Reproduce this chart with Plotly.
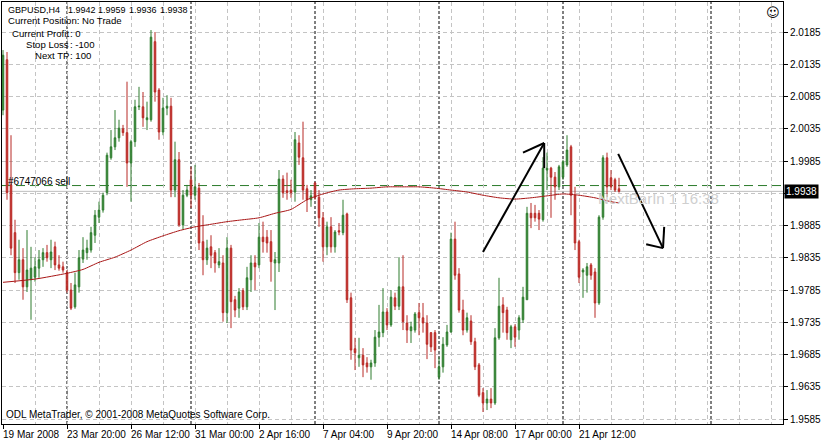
import plotly.graph_objects as go

# ---------------- data ----------------
bar_index = list(range(155))

opens = [
    2.0064, 2.0142, 1.9948, 1.9874, 1.9812, 1.9832, 1.9790, 1.9801, 1.9805, 1.9819,
    1.9832, 1.9843, 1.9832, 1.9852, 1.9824, 1.9821, 1.9812, 1.9785, 1.9759, 1.9790,
    1.9833, 1.9843, 1.9847, 1.9870, 1.9898, 1.9909, 1.9936, 1.9990, 2.0007, 2.0021,
    2.0035, 2.0029, 1.9982, 2.0015, 2.0069, 2.0069, 2.0049, 2.0049, 2.0170, 2.0095,
    2.0030, 2.0067, 2.0070, 1.9940, 1.9987, 1.9886, 1.9932, 1.9956, 1.9932, 1.9943,
    1.9860, 1.9832, 1.9852, 1.9843, 1.9824, 1.9827, 1.9750, 1.9850, 1.9770, 1.9757,
    1.9784, 1.9759, 1.9801, 1.9827, 1.9824, 1.9867, 1.9867, 1.9860, 1.9827, 1.9827,
    1.9957, 1.9939, 1.9940, 1.9937, 2.0013, 1.9990, 1.9942, 1.9925, 1.9951, 1.9929,
    1.9897, 1.9852, 1.9883, 1.9852, 1.9877, 1.9874, 1.9903, 1.9773, 1.9694, 1.9680,
    1.9684, 1.9672, 1.9666, 1.9672, 1.9712, 1.9719, 1.9751, 1.9731, 1.9773, 1.9760,
    1.9790, 1.9734, 1.9722, 1.9723, 1.9750, 1.9742, 1.9734, 1.9719, 1.9719, 1.9650,
    1.9666, 1.9700, 1.9720, 1.9864, 1.9810, 1.9754, 1.9723, 1.9737, 1.9705, 1.9669,
    1.9626, 1.9610, 1.9616, 1.9610, 1.9711, 1.9762, 1.9754, 1.9708, 1.9728, 1.9723,
    1.9739, 1.9770, 1.9904, 1.9904, 1.9904, 1.9894, 1.9971, 1.9974, 1.9960, 1.9945,
    1.9960, 1.9979, 2.0007, 1.9932, 1.9860, 1.9813, 1.9808, 1.9824, 1.9813, 1.9765,
    1.9898, 1.9990, 1.9959, 1.9956, 1.9942,
]

highs = [
    2.0157, 2.0154, 2.0025, 1.9894, 1.9863, 1.9850, 1.9878, 1.9852, 1.9836, 1.9847,
    1.9850, 1.9855, 1.9863, 1.9860, 1.9839, 1.9829, 1.9816, 1.9796, 1.9812, 1.9847,
    1.9867, 1.9863, 1.9883, 1.9909, 1.9922, 1.9936, 1.9998, 2.0033, 2.0064, 2.0049,
    2.0041, 2.0108, 2.0018, 2.0080, 2.0100, 2.0092, 2.0077, 2.0188, 2.0185, 2.0098,
    2.0083, 2.0087, 2.0083, 2.0015, 1.9999, 1.9940, 1.9948, 1.9976, 1.9979, 1.9951,
    1.9901, 1.9863, 1.9870, 1.9847, 1.9850, 1.9839, 1.9867, 1.9855, 1.9776, 1.9788,
    1.9788, 1.9821, 1.9839, 1.9839, 1.9889, 1.9891, 1.9878, 1.9878, 1.9844, 1.9971,
    1.9963, 1.9967, 1.9956, 2.0030, 2.0025, 2.0046, 1.9948, 1.9940, 1.9953, 1.9940,
    1.9906, 1.9891, 1.9898, 1.9878, 1.9889, 1.9925, 1.9905, 1.9781, 1.9711, 1.9711,
    1.9695, 1.9681, 1.9677, 1.9723, 1.9762, 1.9788, 1.9757, 1.9785, 1.9781, 1.9836,
    1.9839, 1.9746, 1.9736, 1.9751, 1.9765, 1.9765, 1.9746, 1.9720, 1.9723, 1.9681,
    1.9712, 1.9731, 1.9874, 1.9891, 1.9819, 1.9770, 1.9750, 1.9746, 1.9711, 1.9672,
    1.9633, 1.9630, 1.9633, 1.9726, 1.9804, 1.9774, 1.9759, 1.9731, 1.9732, 1.9746,
    1.9790, 1.9914, 1.9920, 1.9917, 1.9909, 1.9991, 1.9998, 1.9976, 1.9968, 1.9979,
    1.9987, 2.0025, 2.0010, 1.9945, 1.9863, 1.9819, 1.9827, 1.9827, 1.9819, 1.9901,
    1.9994, 1.9998, 1.9971, 1.9959, 1.9959,
]

lows = [
    2.0056, 1.9925, 1.9839, 1.9796, 1.9801, 1.9770, 1.9782, 1.9739, 1.9798, 1.9804,
    1.9821, 1.9829, 1.9819, 1.9816, 1.9815, 1.9812, 1.9781, 1.9754, 1.9756, 1.9781,
    1.9827, 1.9832, 1.9843, 1.9858, 1.9889, 1.9905, 1.9932, 1.9987, 2.0002, 2.0015,
    2.0024, 1.9945, 1.9922, 2.0007, 2.0064, 2.0038, 2.0033, 2.0046, 2.0077, 2.0018,
    2.0025, 2.0056, 1.9929, 1.9929, 1.9883, 1.9878, 1.9929, 1.9912, 1.9925, 1.9847,
    1.9808, 1.9824, 1.9819, 1.9812, 1.9819, 1.9736, 1.9734, 1.9726, 1.9743, 1.9742,
    1.9754, 1.9754, 1.9782, 1.9785, 1.9819, 1.9843, 1.9843, 1.9798, 1.9754, 1.9813,
    1.9928, 1.9925, 1.9928, 1.9922, 1.9979, 1.9925, 1.9906, 1.9914, 1.9925, 1.9883,
    1.9829, 1.9839, 1.9843, 1.9843, 1.9870, 1.9870, 1.9765, 1.9677, 1.9661, 1.9666,
    1.9650, 1.9657, 1.9646, 1.9666, 1.9697, 1.9712, 1.9723, 1.9728, 1.9754, 1.9754,
    1.9723, 1.9703, 1.9703, 1.9719, 1.9715, 1.9719, 1.9678, 1.9689, 1.9664, 1.9646,
    1.9657, 1.9697, 1.9719, 1.9801, 1.9750, 1.9715, 1.9719, 1.9700, 1.9661, 1.9619,
    1.9596, 1.9599, 1.9602, 1.9607, 1.9708, 1.9719, 1.9708, 1.9695, 1.9697, 1.9708,
    1.9734, 1.9770, 1.9881, 1.9891, 1.9878, 1.9891, 1.9940, 1.9897, 1.9925, 1.9940,
    1.9956, 1.9976, 1.9901, 1.9847, 1.9796, 1.9773, 1.9781, 1.9801, 1.9742, 1.9762,
    1.9894, 1.9929, 1.9940, 1.9937, 1.9936,
]

closes = [
    2.0149, 1.9936, 1.9850, 1.9812, 1.9832, 1.9790, 1.9816, 1.9819, 1.9821, 1.9832,
    1.9843, 1.9835, 1.9844, 1.9824, 1.9819, 1.9816, 1.9785, 1.9757, 1.9793, 1.9835,
    1.9847, 1.9850, 1.9874, 1.9901, 1.9909, 1.9932, 1.9994, 2.0007, 2.0021, 2.0036,
    2.0029, 1.9982, 2.0015, 2.0069, 2.0070, 2.0052, 2.0052, 2.0177, 2.0092, 2.0030,
    2.0067, 2.0070, 1.9940, 1.9987, 1.9886, 1.9932, 1.9940, 1.9932, 1.9945, 1.9858,
    1.9832, 1.9850, 1.9839, 1.9827, 1.9829, 1.9750, 1.9850, 1.9767, 1.9754, 1.9782,
    1.9759, 1.9804, 1.9827, 1.9821, 1.9867, 1.9860, 1.9858, 1.9829, 1.9832, 1.9957,
    1.9936, 1.9936, 1.9936, 2.0018, 1.9991, 1.9940, 1.9925, 1.9931, 1.9929, 1.9897,
    1.9852, 1.9883, 1.9852, 1.9875, 1.9875, 1.9901, 1.9770, 1.9692, 1.9688, 1.9684,
    1.9669, 1.9666, 1.9672, 1.9712, 1.9720, 1.9751, 1.9731, 1.9774, 1.9760, 1.9790,
    1.9736, 1.9723, 1.9728, 1.9748, 1.9742, 1.9734, 1.9701, 1.9697, 1.9692, 1.9666,
    1.9701, 1.9720, 1.9864, 1.9808, 1.9754, 1.9723, 1.9742, 1.9705, 1.9666, 1.9622,
    1.9610, 1.9616, 1.9610, 1.9711, 1.9760, 1.9750, 1.9719, 1.9728, 1.9712, 1.9742,
    1.9774, 1.9904, 1.9897, 1.9897, 1.9895, 1.9974, 1.9974, 1.9960, 1.9945, 1.9976,
    1.9984, 2.0002, 1.9932, 1.9858, 1.9805, 1.9816, 1.9821, 1.9808, 1.9765, 1.9898,
    1.9990, 1.9945, 1.9945, 1.9940, 1.9938,
]

ma_index = [0, 8, 16, 20, 24, 28, 32, 36, 40, 44, 48, 52, 56, 60, 64, 68, 72, 76, 80,
            84, 88, 92, 96, 100, 104, 108, 112, 116, 120, 124, 128, 132, 136, 140,
            144, 148, 152, 154]
ma_value = [1.9797, 1.9802, 1.9811, 1.9817, 1.9828, 1.9836, 1.9847, 1.9860, 1.9869,
            1.9877, 1.9883, 1.9887, 1.9891, 1.9894, 1.9897, 1.9904, 1.9910, 1.9925,
            1.9934, 1.9940, 1.9942, 1.9943, 1.9945, 1.9945, 1.9945, 1.9943, 1.9940,
            1.9937, 1.9932, 1.9928, 1.9926, 1.9928, 1.9931, 1.9934, 1.9932, 1.9928,
            1.9922, 1.9920]

tick_bars = [0, 16, 32, 48, 64, 80, 96, 112, 128, 144]
tick_labels = ["19 Mar 2008", "23 Mar 20:00", "26 Mar 12:00", "31 Mar 00:00",
               "2 Apr 16:00", "7 Apr 04:00", "9 Apr 20:00", "14 Apr 08:00",
               "17 Apr 00:00", "21 Apr 12:00"]
price_ticks = [1.9585, 1.9635, 1.9685, 1.9735, 1.9785, 1.9835, 1.9885, 1.9935,
               1.9985, 2.0035, 2.0085, 2.0135, 2.0185]
price_tick_labels = ["1.9585", "1.9635", "1.9685", "1.9735", "1.9785", "1.9835",
                     "1.9885", "", "1.9985", "2.0035", "2.0085", "2.0135", "2.0185"]
week_separators = [16, 47, 78, 109, 140, 177]
order_price = 1.9947
bid_price = 1.9938

symbol = "GBPUSD,H4"
last_ohlc = ["1.9942", "1.9959", "1.9936", "1.9938"]

# hand-drawn arrows (bar, price)
arrow_up = [((120, 1.9844), (135.3, 2.0013)), ((130, 1.9998), (135.3, 2.0013)),
            ((135.3, 1.9974), (135.3, 2.0013))]
arrow_down = [((153.8, 1.9996), (165, 1.9850)), ((160.8, 1.9856), (165, 1.9850)),
              ((165.3, 1.9883), (165, 1.9850))]

# ---------------- figure ----------------
W, H = 821, 441
ML, MR, MT, MB = 2, 38, 2, 17
PW, PH = W - ML - MR, H - MT - MB
FONT = "Liberation Sans, Arial, sans-serif"
FS = 10
GREEN_LINE, GREEN_FILL = "#2f7d2f", "#3b8b3b"
RED_LINE, RED_FILL = "#b82a26", "#c8322d"
GRID = "#c4c4c4"


def px(x, y):
    return (x - ML) / PW, (MT + PH - y) / PH


fig = go.Figure()
fig.add_trace(go.Candlestick(
    x=bar_index, open=opens, high=highs, low=lows, close=closes,
    increasing=dict(line=dict(color=GREEN_LINE, width=1), fillcolor=GREEN_FILL),
    decreasing=dict(line=dict(color=RED_LINE, width=1), fillcolor=RED_FILL),
    whiskerwidth=0, hoverinfo="skip", showlegend=False,
))
fig.add_trace(go.Scatter(
    x=ma_index, y=ma_value, mode="lines",
    line=dict(color="#a81515", width=1, shape="spline", smoothing=0.6),
    hoverinfo="skip", showlegend=False,
))

shapes = []
for b in week_separators:
    shapes.append(dict(type="line", xref="x", yref="paper", x0=b, x1=b, y0=0, y1=1,
                       line=dict(color="black", width=1, dash="3px,2px"), layer="below"))
shapes.append(dict(type="line", xref="paper", yref="y", x0=0, x1=1, y0=bid_price, y1=bid_price,
                   line=dict(color="#bdbdbd", width=1), layer="below"))
shapes.append(dict(type="line", xref="paper", yref="y", x0=0, x1=1, y0=order_price, y1=order_price,
                   line=dict(color="#2a7a2a", width=1, dash="9px,5px"), layer="below"))
for (a, b) in arrow_up + arrow_down:
    shapes.append(dict(type="line", xref="x", yref="y", x0=a[0], y0=a[1], x1=b[0], y1=b[1],
                       line=dict(color="black", width=2), layer="above"))

ann = []


def txt(t, x, y, anchor="left", size=FS, color="black", family=FONT):
    xp, yp = px(x, y)
    ann.append(dict(text=t, x=xp, y=yp, xref="paper", yref="paper", showarrow=False,
                    xanchor=anchor, yanchor="middle",
                    font=dict(family=family, size=size, color=color)))


txt(symbol, 6, 10, size=9)
for xpos, v in zip([66, 96, 127, 158], last_ohlc):
    txt(v, xpos, 10, size=9)
txt("Current Position: No Trade", 6, 21, size=9.6)
txt("Current Profit", 71, 33, anchor="right", size=9.6)
txt(": 0", 68, 33, size=9.6)
txt("Stop Loss", 71, 44, anchor="right", size=9.6)
txt(": -100", 68, 44, size=9.6)
txt("Next TP", 71, 56, anchor="right", size=9.6)
txt(": 100", 68, 56, size=9.6)
txt("#6747066 sell", 6, 181)
txt("ODL MetaTrader, © 2001-2008 MetaQuotes Software Corp.", 4, 414)
txt("NextBarIn 1 16:38", 596, 198, size=15, color="#cfcfcf")
txt("☺", 773, 12, anchor="center", size=13, family="DejaVu Sans")

# time-axis labels, left-aligned at their ticks (as in the terminal)
for b, lab in zip(tick_bars, tick_labels):
    ann.append(dict(text=lab, x=b, y=0, xref="x", yref="paper", showarrow=False,
                    xanchor="left", yanchor="top", yshift=-3, xshift=-2,
                    font=dict(family=FONT, size=FS, color="black")))

ann.append(dict(text=f"{bid_price:.4f}", x=1, y=bid_price, xref="paper", yref="y",
                showarrow=False, xanchor="left", yanchor="middle", xshift=1,
                bgcolor="black", borderpad=1,
                font=dict(family=FONT, size=FS, color="white")))

fig.update_layout(
    width=W, height=H, margin=dict(l=ML, r=MR, t=MT, b=MB, autoexpand=False),
    paper_bgcolor="white", plot_bgcolor="white",
    font=dict(family=FONT, size=FS, color="black"),
    boxgap=0.45, shapes=shapes, annotations=ann, showlegend=False,
    xaxis=dict(
        range=[-0.25, 195], rangeslider=dict(visible=False),
        tickmode="array", tickvals=tick_bars, showticklabels=False,
        ticks="outside", ticklen=4,
        tickcolor="black", showline=True, linecolor="black", linewidth=1, mirror=True,
        showgrid=True, gridcolor=GRID, griddash="4px,3px", gridwidth=1, zeroline=False,
        minor=dict(tickmode="array", tickvals=list(range(0, 196, 8)), showgrid=True,
                   gridcolor=GRID, griddash="4px,3px", gridwidth=1, ticks=""),
        fixedrange=True,
    ),
    yaxis=dict(
        range=[1.95774, 2.02315], side="right",
        tickmode="array", tickvals=price_ticks, ticktext=price_tick_labels,
        ticks="outside", ticklen=4, tickcolor="black",
        showline=True, linecolor="black", linewidth=1, mirror=True,
        showgrid=True, gridcolor=GRID, griddash="4px,3px", gridwidth=1, zeroline=False,
        tickfont=dict(family=FONT, size=FS, color="black"), fixedrange=True,
    ),
)

fig.write_html("out.html", config={"displayModeBar": False},
               post_script="document.body.style.margin='0px';document.body.style.overflow='hidden';")
